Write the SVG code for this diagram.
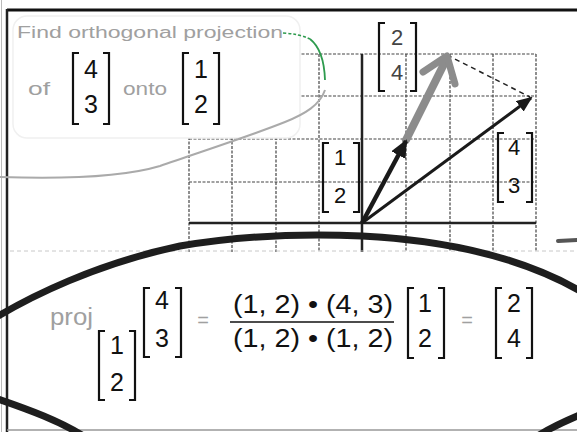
<svg xmlns="http://www.w3.org/2000/svg" width="577" height="432" viewBox="0 0 577 432">
<style>
  .num { font-family: "Liberation Sans", Arial, sans-serif; fill: #111; text-anchor: middle; }
  .gray { font-family: "Liberation Sans", Arial, sans-serif; fill: #a0a0a0; }
  .br { fill: none; stroke: #111; stroke-width: 2.2; }
  .grid { stroke: #444; stroke-width: 1.2; stroke-dasharray: 3 1.5; fill: none; }
  .axis { stroke: #222; stroke-width: 2.5; fill: none; }
</style>
<defs>
  <marker id="ah1" markerUnits="userSpaceOnUse" markerWidth="18" markerHeight="16" refX="16" refY="8" orient="auto" viewBox="0 0 18 16">
    <path d="M0,0 L18,8 L0,16 z" fill="#1a1a1a"/>
  </marker>
  <marker id="ah2" markerUnits="userSpaceOnUse" markerWidth="16" markerHeight="13" refX="14" refY="6.5" orient="auto" viewBox="0 0 16 13">
    <path d="M0,0 L16,6.5 L0,13 z" fill="#1a1a1a"/>
  </marker>
</defs>
<rect width="577" height="432" fill="#fff"/>

<!-- frame -->
<g id="frame">
  <line x1="1.5" y1="0" x2="1.5" y2="432" stroke="#bbb" stroke-width="1"/>
  <line x1="7" y1="10" x2="577" y2="10" stroke="#111" stroke-width="3"/>
  <line x1="7" y1="9" x2="7" y2="432" stroke="#222" stroke-width="2.5"/>
  <line x1="7" y1="430" x2="577" y2="430" stroke="#999" stroke-width="1.5"/>
</g>

<!-- grid -->
<g id="grid">
  <path class="grid" d="M297,54 H536 M297,96 H536 M189,139 H536 M189,182 H536"/>
  <path class="grid" d="M189,137 V252 M232,137 V252 M276,137 V252 M319,54 V252 M406,54 V252 M450,54 V252 M493,54 V252"/>
  <path class="grid" d="M536,54 V252" stroke-width="2"/>
  <path class="axis" d="M189,223 H536 M362,54 V252"/>
  <path d="M10,251 H577" stroke="#c8c8c8" stroke-width="1" stroke-dasharray="4 3"/>
</g>

<!-- bubble -->
<g id="bubble">
  <rect x="13" y="16" width="287" height="122" rx="14" fill="#fff" stroke="#f0f0f0" stroke-width="1.5"/>
  <path d="M325,90 C320,105 305,114 285,122 C250,136 200,152 160,166 C120,178 60,179 0,177" fill="none" stroke="#aaa" stroke-width="2"/>
  <path d="M283,33 Q300,34 310,39" fill="none" stroke="#2e9b4e" stroke-width="1.6" stroke-dasharray="3 2"/>
  <path d="M310,39 Q324,50 325,80" fill="none" stroke="#2e9b4e" stroke-width="1.8"/>
  <text class="gray" x="17" y="38" font-size="16" textLength="266" lengthAdjust="spacingAndGlyphs">Find orthogonal projection</text>
  <text class="gray" x="28" y="95" font-size="19" textLength="22" lengthAdjust="spacingAndGlyphs">of</text>
  <text class="gray" x="123" y="95" font-size="19" textLength="44" lengthAdjust="spacingAndGlyphs">onto</text>
  <path class="br" d="M79,53 H73 V124 H79 M103,53 H109 V124 H103"/>
  <text class="num" x="91" y="78" font-size="25">4</text>
  <text class="num" x="91" y="113" font-size="25">3</text>
  <path class="br" d="M189,53 H183 V124 H189 M213,53 H219 V124 H213"/>
  <text class="num" x="201" y="78" font-size="25">1</text>
  <text class="num" x="201" y="113" font-size="25">2</text>
</g>

<!-- connectors / vectors -->
<g id="connectors">
  <line x1="447" y1="55" x2="530" y2="97" stroke="#222" stroke-width="1.5" stroke-dasharray="5 4"/>
  <line x1="406" y1="140" x2="446" y2="60" stroke="#8c8c8c" stroke-width="8" stroke-linecap="round"/>
  <polyline points="423,72 447,56 455,84" fill="none" stroke="#8c8c8c" stroke-width="7" stroke-linecap="round" stroke-linejoin="round"/>
  <line x1="362" y1="223" x2="406" y2="141" stroke="#1a1a1a" stroke-width="4.5" marker-end="url(#ah1)"/>
  <line x1="362" y1="223" x2="531" y2="98" stroke="#1a1a1a" stroke-width="3" marker-end="url(#ah2)"/>
</g>

<!-- grid vector labels -->
<g id="label-12">
  <path class="br" d="M329,143 H323 V212 H329 M353,143 H359 V212 H353"/>
  <text class="num" x="340" y="165" font-size="22">1</text>
  <text class="num" x="340" y="203" font-size="22">2</text>
</g>
<g id="label-43">
  <path class="br" d="M504,133 H498 V202 H504 M526,133 H532 V202 H526"/>
  <text class="num" x="514" y="155" font-size="22">4</text>
  <text class="num" x="514" y="193" font-size="22">3</text>
</g>
<g id="label-24">
  <path class="br" d="M385,23 H379 V91 H385 M410,23 H416 V91 H410" stroke="#555"/>
  <text class="num" x="397" y="45" font-size="22" style="fill:#444">2</text>
  <text class="num" x="397" y="80" font-size="22" style="fill:#444">4</text>
</g>

<!-- ellipse -->
<g id="ellipse" fill="none" stroke="#1e1e1e" stroke-width="7" stroke-linecap="round">
  <path d="M-5,318 C30,297 95,264 180,246 C240,236 300,233 362,236 C440,240 520,256 582,292"/>
  <path d="M582,414 C565,421 550,428 536,437"/>
  <path d="M-5,398 C30,410 60,421 85,437"/>
  <line x1="558" y1="241" x2="577" y2="240" stroke="#555" stroke-width="4"/>
</g>

<!-- formula -->
<g id="formula">
  <text class="gray" x="50" y="325" font-size="23" textLength="43" lengthAdjust="spacingAndGlyphs">proj</text>
  <path class="br" d="M105,331 H99 V400 H105 M129,331 H135 V400 H129"/>
  <text class="num" x="117" y="354" font-size="25">1</text>
  <text class="num" x="117" y="391" font-size="25">2</text>
  <path class="br" d="M150,288 H144 V357 H150 M175,288 H181 V357 H175"/>
  <text class="num" x="162" y="309" font-size="25">4</text>
  <text class="num" x="162" y="347" font-size="25">3</text>
  <text class="gray" x="203" y="327" font-size="20" text-anchor="middle">=</text>
  <text class="num" x="313" y="313" font-size="26" textLength="160" lengthAdjust="spacingAndGlyphs">(1, 2) • (4, 3)</text>
  <line x1="230" y1="322" x2="394" y2="322" stroke="#111" stroke-width="1.6"/>
  <text class="num" x="313" y="347" font-size="26" textLength="160" lengthAdjust="spacingAndGlyphs">(1, 2) • (1, 2)</text>
  <path class="br" d="M414,288 H408 V358 H414 M438,288 H444 V358 H438"/>
  <text class="num" x="425" y="312" font-size="25">1</text>
  <text class="num" x="425" y="347" font-size="25">2</text>
  <text class="gray" x="467" y="327" font-size="20" text-anchor="middle">=</text>
  <path class="br" d="M502,288 H496 V358 H502 M526,288 H532 V358 H526"/>
  <text class="num" x="514" y="312" font-size="25">2</text>
  <text class="num" x="514" y="347" font-size="25">4</text>
</g>
</svg>
